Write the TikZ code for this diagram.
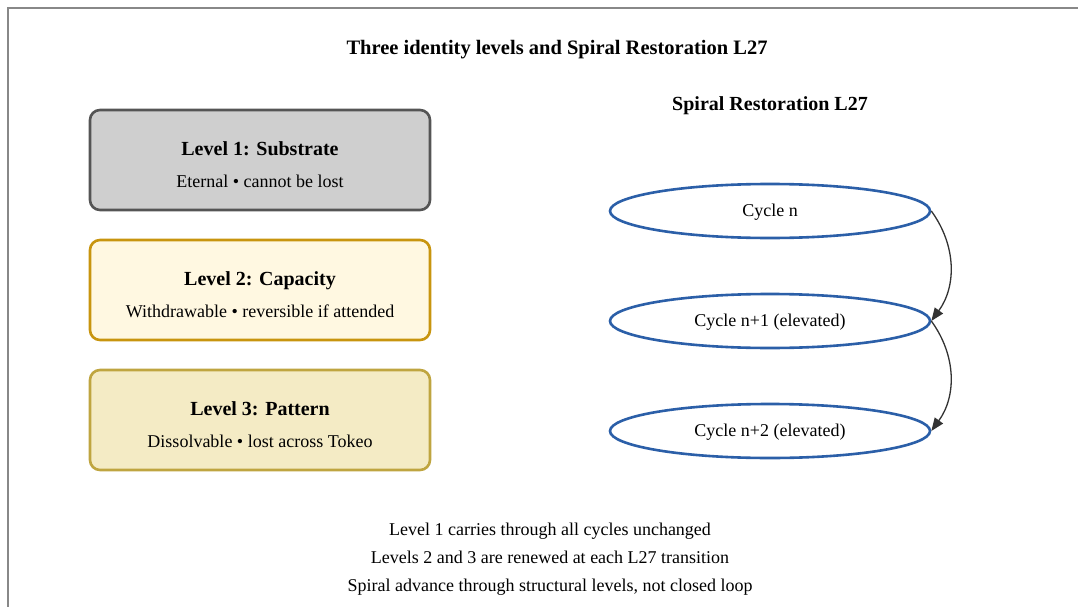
\documentclass[tikz,border=0pt]{standalone}
\usepackage{fontspec}
\setmainfont{Liberation Serif}
\usetikzlibrary{arrows.meta,shapes.geometric}
\definecolor{frame}{HTML}{888888}
\definecolor{lvAfill}{HTML}{CFCFCF}
\definecolor{lvAdraw}{HTML}{555555}
\definecolor{lvBfill}{HTML}{FFF8E1}
\definecolor{lvBdraw}{HTML}{C8950E}
\definecolor{lvCfill}{HTML}{F4EBC5}
\definecolor{lvCdraw}{HTML}{BFA540}
\definecolor{cyc}{HTML}{2B5FA8}
\definecolor{arr}{HTML}{333333}
\tikzset{
  txt/.style={inner sep=0pt, text height=1em, text depth=0.08em, yshift=-2.5pt},
  levelbox/.style={rectangle, rounded corners=10pt, line width=2.6pt, minimum width=340pt, minimum height=100pt, inner sep=0pt},
  lvtitle/.style={txt, font=\bfseries\fontsize{20}{22}\selectfont},
  lvsub/.style={txt, font=\fontsize{18}{20}\selectfont},
  cycle/.style={ellipse, draw=cyc, line width=2.6pt, minimum width=320pt, minimum height=54pt, inner sep=0pt, text height=1.25em, text depth=0.08em, font=\fontsize{18}{20}\selectfont},
  flow/.style={draw=arr, line width=1.3pt, -{Triangle[length=13pt,width=10pt]}},
  note/.style={txt, font=\fontsize{18}{20}\selectfont},
  heading/.style={txt, font=\bfseries\fontsize{20.5}{22}\selectfont}
}
\begin{document}
\begin{tikzpicture}[x=1pt,y=-1pt]
\useasboundingbox (0,0) rectangle (1078,607);
\fill[white] (0,0) rectangle (1078,607);
\draw[frame, line width=2pt] (8,607) -- (8,8) -- (1078,8);

\node[heading] (title) at (557,47) {Three identity levels and Spiral Restoration L27};

\node[levelbox, draw=lvAdraw, fill=lvAfill] (b1) at (260,160) {};
\node[lvtitle] (b1t) at (260,148) {Level 1: Substrate};
\node[lvsub] (b1s) at (260,180) {Eternal • cannot be lost};

\node[levelbox, draw=lvBdraw, fill=lvBfill] (b2) at (260,290) {};
\node[lvtitle] (b2t) at (260,278) {Level 2: Capacity};
\node[lvsub] (b2s) at (260,310) {Withdrawable • reversible if attended};

\node[levelbox, draw=lvCdraw, fill=lvCfill] (b3) at (260,420) {};
\node[lvtitle] (b3t) at (260,408) {Level 3: Pattern};
\node[lvsub] (b3s) at (260,440) {Dissolvable • lost across Tokeo};

\node[heading, font=\bfseries\fontsize{20}{22}\selectfont] (sp) at (770,103) {Spiral Restoration L27};

\node[cycle] (c1) at (770,211) {Cycle n};
\node[cycle] (c2) at (770,321) {Cycle n+1 (elevated)};
\node[cycle] (c3) at (770,431) {Cycle n+2 (elevated)};

\draw[flow] (c1.east) to[bend left=36] (c2.east);
\draw[flow] (c2.east) to[bend left=36] (c3.east);

\node[note] (n1) at (550,528) {Level 1 carries through all cycles unchanged};
\node[note] (n2) at (550,556) {Levels 2 and 3 are renewed at each L27 transition};
\node[note] (n3) at (550,584) {Spiral advance through structural levels, not closed loop};
\end{tikzpicture}
\end{document}
